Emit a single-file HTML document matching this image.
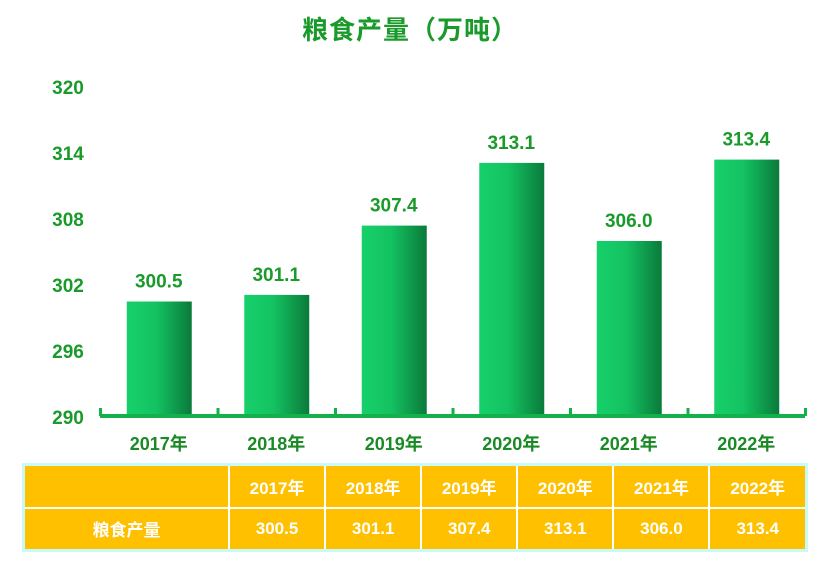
<!DOCTYPE html>
<html><head><meta charset="utf-8"><style>
body{margin:0;width:820px;height:562px;background:#fff;font-family:"Liberation Sans","Noto Sans CJK SC",sans-serif;overflow:hidden;position:relative}
#title{position:absolute;left:0;width:820px;top:10px;text-align:center;font-size:26px;font-weight:bold;color:#1a9a2a;letter-spacing:1px}
table{position:absolute;left:22px;top:463px;width:786px;height:89px;border-collapse:collapse;border:3px solid #c8fafa;background:#ffc000}
td{border:2px solid #fff;color:#fff;font-weight:bold;font-size:17px;text-align:center;padding:0}
</style></head><body>
<div id="title">粮食产量（万吨）</div>
<svg id="chart" width="820" height="460" style="position:absolute;left:0;top:0">
<defs><linearGradient id="g" x1="0" x2="1"><stop offset="0" stop-color="#17d06a"/><stop offset="0.45" stop-color="#14c262"/><stop offset="1" stop-color="#0a7a3a"/></linearGradient></defs>
<g id="bars"></g>
</svg>
<table>
<tr><td style="width:203px"></td><td>2017年</td><td>2018年</td><td>2019年</td><td>2020年</td><td>2021年</td><td>2022年</td></tr>
<tr><td>粮食产量</td><td>300.5</td><td>301.1</td><td>307.4</td><td>313.1</td><td>306.0</td><td>313.4</td></tr>
</table>
<script>
const categories=["2017年","2018年","2019年","2020年","2021年","2022年"];
const values=[300.5,301.1,307.4,313.1,306.0,313.4];
const ticks=[290,296,302,308,314,320];
const ymin=290,ymax=320,y0=417,y1=87,x0=100,x1=805;
const y=v=>y0-(v-ymin)/(ymax-ymin)*(y0-y1);
const bw=(x1-x0)/categories.length;
const svg=document.getElementById('chart');const NS='http://www.w3.org/2000/svg';
function mk(t,a,txt){const e=document.createElementNS(NS,t);for(const k in a)e.setAttribute(k,a[k]);if(txt!==undefined)e.textContent=txt;svg.appendChild(e);return e;}
ticks.forEach(t=>{const e=mk('text',{x:68,y:y(t)+7,'text-anchor':'middle','font-size':19,'font-weight':'bold',fill:'#1a9a2a'},t);

});
values.forEach((v,i)=>{const cx=x0+bw*(i+0.5);
const r=mk('rect',{x:cx-32,y:y(v),width:65,height:y0-y(v),fill:'url(#g)'});


const l=mk('text',{x:cx,y:y(v)-14,'text-anchor':'middle','font-size':19,'font-weight':'bold',fill:'#1a9a2a'},v.toFixed(1));


const c=mk('text',{x:cx,y:450,'text-anchor':'middle','font-size':18,'font-weight':'bold',fill:'#1a8a25'},categories[i]);

});
const ax=mk('rect',{x:x0,y:414,width:x1-x0,height:4,fill:'#14b04a'});


for(let i=0;i<=categories.length;i++){const tk=mk('rect',{x:x0+bw*i-1,y:408,width:3,height:8,fill:'#14b04a'});

}
</script>
</body></html>
